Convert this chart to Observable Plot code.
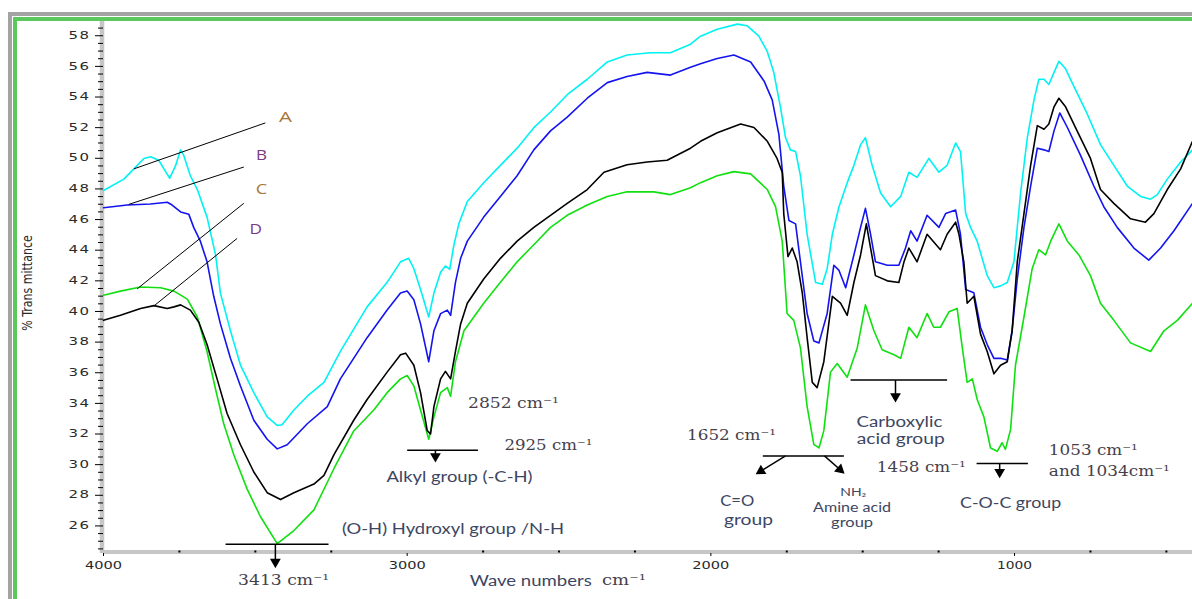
<!DOCTYPE html>
<html><head><meta charset="utf-8">
<script src="https://cdn.jsdelivr.net/npm/d3@7"></script>
<script src="https://cdn.jsdelivr.net/npm/@observablehq/plot@0.6"></script>
<style>
html,body{margin:0;padding:0;background:#fff;width:1192px;height:599px;overflow:hidden;}
#frame{position:absolute;left:8px;top:12px;right:0;bottom:0;border-top:4.5px solid #a3a3a3;border-left:4.5px solid #a3a3a3;}
#frame2{position:absolute;left:12.5px;top:16.5px;right:0;bottom:0;border-top:4px solid #5bc85b;border-left:4px solid #5bc85b;}
#chart{position:absolute;left:0;top:0;}
</style></head><body>
<div id="frame"></div><div id="frame2"></div><div id="chart"></div>
<script>
// ---- axes ----
const xDomain = [4000, 414];
const yDomain = [24.2, 58.93];
const xMajor = [4000, 3000, 2000, 1000];
const xMinor = [3750, 3500, 3250, 2750, 2500, 2250, 1750, 1500, 1250, 750, 500];
const yMajor = [26, 28, 30, 32, 34, 36, 38, 40, 42, 44, 46, 48, 50, 52, 54, 56, 58];
const yMinor = d3.range(24.5, 58.6, 0.5).filter(v => v % 2 !== 0);

// ---- series A (cyan) ----
const wnA = [4000,3933,3900,3867,3845,3818,3801,3782,3763,3746,3736,3714,3691,3659,3631,3615,3582,3549,3505,3461,3428,3412,3373,3329,3274,3220,3132,3066,3022,2995,2978,2956,2929,2912,2890,2874,2860,2846,2830,2802,2748,2693,2638,2583,2528,2473,2407,2341,2276,2199,2133,2067,2034,1979,1913,1880,1842,1814,1793,1771,1754,1738,1721,1705,1683,1655,1633,1617,1600,1578,1551,1529,1507,1491,1469,1441,1408,1375,1348,1321,1282,1249,1222,1194,1178,1161,1145,1123,1090,1068,1046,1024,1002,980,958,936,920,903,887,870,854,832,805,761,717,673,629,585,552,530,497,453,414];
const tA = [47.9,48.64,49.31,49.99,50.1,49.87,49.31,48.7,49.5,50.55,50.2,48.86,47.96,46.16,43.69,41.2,38.74,36.5,34.7,33.12,32.56,32.6,33.57,34.47,35.37,37.4,40.3,41.9,43.24,43.47,42.79,41.44,39.64,41.2,42.56,42.97,42.75,44.36,45.72,47.18,48.4,49.54,50.66,52.0,53.02,54.15,55.16,56.29,56.74,56.89,56.89,57.45,57.97,58.42,58.76,58.65,57.97,56.96,55.61,53.36,51.34,50.55,50.44,48.86,45.04,41.89,41.78,42.79,45.04,46.84,48.41,49.54,50.89,51.34,49.54,47.74,46.84,47.51,49.09,48.75,49.99,49.09,49.54,51.0,50.44,46.39,45.49,44.59,42.34,41.55,41.67,41.89,43.24,47.74,51.34,53.81,55.16,55.16,54.82,55.61,56.33,55.84,54.71,52.91,50.89,49.54,48.19,47.51,47.33,47.63,48.64,49.76,50.55];

// ---- series B (blue) ----
const wnB = [4000,3922,3845,3790,3774,3746,3719,3703,3681,3659,3637,3615,3582,3549,3505,3461,3428,3395,3329,3263,3220,3132,3066,3022,3000,2978,2956,2929,2912,2890,2868,2857,2841,2824,2802,2748,2693,2638,2583,2528,2473,2407,2341,2276,2210,2133,2067,2034,1979,1924,1869,1825,1798,1776,1760,1743,1721,1705,1683,1661,1644,1617,1595,1578,1556,1529,1507,1491,1474,1458,1419,1381,1359,1342,1321,1288,1249,1227,1194,1178,1161,1134,1112,1090,1068,1046,1024,1008,991,969,947,925,903,887,870,851,826,783,739,706,662,607,558,519,475,414];
const tB = [46.77,46.95,47.02,47.13,46.95,46.5,46.34,45.49,44.59,43.24,40.99,39.19,36.94,35.14,32.9,31.66,31.03,31.3,32.67,33.79,35.6,38.29,40.09,41.2,41.33,40.76,39.19,36.72,38.74,39.86,40.09,39.75,41.9,43.47,44.59,46.16,47.51,48.86,50.55,51.79,52.69,53.92,54.94,55.34,55.61,55.43,55.95,56.17,56.51,56.74,56.29,55.05,53.81,51.56,48.19,45.94,45.72,43.24,39.87,38.07,37.95,39.87,43.02,42.68,41.55,43.69,45.49,46.73,45.04,43.24,43.02,43.02,44.14,45.27,44.59,46.28,45.49,46.39,46.62,45.04,41.44,41.22,38.97,37.84,36.94,36.94,36.83,38.74,42.12,45.49,48.19,50.66,50.55,50.44,51.79,52.96,52.01,50.21,48.19,46.84,45.49,44.14,43.35,44.14,45.27,47.06];

// ---- series C (green) ----
const wnC = [4000,3944,3878,3812,3768,3724,3691,3659,3631,3604,3571,3527,3483,3428,3373,3307,3241,3176,3110,3066,3022,3000,2978,2956,2929,2912,2890,2868,2857,2841,2813,2748,2693,2638,2583,2528,2473,2407,2341,2276,2188,2133,2067,2034,1979,1924,1869,1814,1787,1765,1749,1727,1705,1683,1661,1644,1628,1606,1584,1551,1518,1491,1463,1436,1397,1375,1348,1321,1288,1266,1244,1216,1189,1172,1156,1139,1123,1101,1079,1057,1041,1030,1013,997,969,942,920,898,881,854,826,788,750,717,673,618,552,508,464,414];
const tC = [41.06,41.33,41.6,41.55,41.33,40.81,39.64,37.39,34.92,32.67,30.65,28.4,26.6,24.84,25.7,27.05,29.75,32.2,33.57,34.7,35.6,35.82,35.14,33.57,31.66,33.12,34.7,35.03,34.47,36.72,38.74,40.54,41.9,43.24,44.36,45.49,46.28,46.95,47.51,47.81,47.81,47.63,48.08,48.41,48.86,49.13,48.98,47.96,46.84,44.59,39.87,39.42,37.62,33.79,31.32,31.09,32.22,36.04,36.6,35.71,37.62,40.43,38.74,37.5,37.17,36.94,38.97,38.29,39.87,38.97,38.97,39.98,40.2,37.62,35.37,35.6,34.25,33.12,31.09,30.87,31.43,31.0,32.3,36.49,39.64,42.79,44.03,43.69,44.59,45.72,44.59,43.69,42.34,40.54,39.42,37.95,37.39,38.74,39.42,40.54];

// ---- series D (black) ----
const wnD = [4000,3944,3878,3834,3790,3768,3746,3714,3686,3659,3626,3593,3549,3505,3461,3417,3373,3307,3274,3241,3176,3132,3066,3022,3005,2978,2956,2934,2923,2912,2890,2874,2857,2841,2824,2802,2748,2693,2638,2583,2528,2473,2407,2352,2276,2210,2144,2067,2034,1979,1902,1858,1814,1782,1765,1760,1746,1732,1716,1699,1683,1666,1650,1628,1600,1573,1551,1529,1507,1488,1474,1458,1419,1381,1364,1348,1321,1288,1244,1222,1194,1183,1167,1156,1134,1112,1090,1068,1046,1024,1008,991,969,947,925,903,887,870,854,832,794,750,717,673,618,569,541,497,453,414];
const tD = [39.42,39.75,40.2,40.38,40.2,40.3,40.43,40.09,39.3,37.84,35.6,33.34,31.3,29.52,28.17,27.72,28.17,28.73,29.3,30.65,32.9,34.25,36.04,37.17,37.28,36.49,34.7,32.22,32.0,33.79,35.6,36.09,35.6,37.39,39.19,40.54,42.12,43.47,44.59,45.49,46.28,47.06,47.96,49.09,49.58,49.76,49.87,50.66,51.11,51.67,52.24,52.01,51.11,49.99,49.09,46.39,43.58,44.14,43.24,41.22,38.29,35.37,35.03,36.72,40.99,40.54,39.75,41.89,43.69,45.72,44.14,42.34,42.0,41.89,43.24,44.14,43.24,45.04,44.03,45.04,45.83,45.04,43.24,40.54,40.99,38.52,37.39,35.93,36.49,36.72,38.74,43.24,46.39,49.54,52.13,51.9,52.24,53.36,53.92,53.36,51.79,49.99,47.96,47.06,46.05,45.83,46.39,47.96,49.31,51.11];

// ---- annotations (data units: wavenumber, %T) ----
const leaderLines = [
  {x1: 3900, y1: 49.31, x2: 3467, y2: 52.31},
  {x1: 3917, y1: 46.99, x2: 3538, y2: 49.43},
  {x1: 3889, y1: 41.48, x2: 3538, y2: 47.06},
  {x1: 3834, y1: 40.36, x2: 3560, y2: 44.77}
];
const letterLabels = [
  {x: 3401, y: 52.68, text: "A"},
  {x: 3480, y: 50.2, text: "B"},
  {x: 3480, y: 47.96, text: "C"},
  {x: 3499, y: 45.38, text: "D"}
];
const brackets = [
  {x1: 3598, y1: 24.8, x2: 3259, y2: 24.8},
  {x1: 3000, y1: 30.94, x2: 2767, y2: 30.94},
  {x1: 1829, y1: 30.57, x2: 1562, y2: 30.57},
  {x1: 1540, y1: 35.52, x2: 1222, y2: 35.52},
  {x1: 1125, y1: 30.07, x2: 956, y2: 30.07}
];
const shafts = [
  {x1: 3434, y1: 24.8, x2: 3434, y2: 23.65},
  {x1: 2907, y1: 30.94, x2: 2907, y2: 30.54},
  {x1: 1754, y1: 30.57, x2: 1835, y2: 29.59},
  {x1: 1626, y1: 30.57, x2: 1575, y2: 29.68},
  {x1: 1392, y1: 35.52, x2: 1392, y2: 34.46},
  {x1: 1049, y1: 30.07, x2: 1049, y2: 29.52}
];
const heads = [
  {x: 3434, y: 23.65, angle: 180},
  {x: 2907, y: 30.54, angle: 180},
  {x: 1835, y: 29.59, angle: 238.6},
  {x: 1575, y: 29.68, angle: 131.5},
  {x: 1392, y: 34.46, angle: 180},
  {x: 1049, y: 29.52, angle: 180}
];
const cmLabels = [
  {x: 3407, y: 22.41, text: "3413 cm⁻¹"},
  {x: 2650, y: 33.97, text: "2852 cm⁻¹"},
  {x: 2535, y: 31.23, text: "2925 cm⁻¹"},
  {x: 1932, y: 31.88, text: "1652 cm⁻¹"},
  {x: 1307, y: 29.79, text: "1458 cm⁻¹"}
];
const cmLabelsLeft = [
  {x: 887, y: 30.94, text: "1053 cm⁻¹"},
  {x: 887, y: 29.55, text: "and 1034cm⁻¹"}
];
const groupLabels = [
  {x: 2849, y: 25.8, text: "(O-H) Hydroxyl group /N-H"},
  {x: 2828, y: 29.14, text: "Alkyl group (-C-H)"},
  {x: 1913, y: 27.63, text: "C=O"},
  {x: 1876, y: 26.39, text: "group"},
  {x: 1379, y: 32.79, text: "Carboxylic"},
  {x: 1375, y: 31.62, text: "acid group"},
  {x: 1013, y: 27.46, text: "C-O-C group"},
  {x: 2593, y: 22.41, text: "Wave numbers"}
];
const smallLabels = [
  {x: 1535, y: 27.18, text: "Amine acid"},
  {x: 1535, y: 26.2, text: "group"}
];
const tinyLabels = [{x: 1531, y: 28.16, text: "NH₂"}];
const axisUnit = [{x: 2286, y: 22.41, text: "cm⁻¹"}];
const yTitle = "% Trans mittance";

const mk = (w, t) => w.map((x, i) => ({x, y: t[i]}));
const dataA = mk(wnA, tA), dataB = mk(wnB, tB), dataC = mk(wnC, tC), dataD = mk(wnD, tD);

// styling maps (rendered text widths, px, matching the stretched look of the original)
const letterColor = {A: "#a8773a", B: "#7a3a82", C: "#a8773a", D: "#7a3a82"};
const bigWidths = {"(O-H) Hydroxyl group /N-H": 222, "Alkyl group (-C-H)": 146, "C=O": 34, "group": 49,
  "Carboxylic": 86, "acid group": 88, "C-O-C group": 101, "Wave numbers": 122,
  "3413 cm⁻¹": 91, "2852 cm⁻¹": 91, "2925 cm⁻¹": 88, "1652 cm⁻¹": 89, "1458 cm⁻¹": 89,
  "1053 cm⁻¹": 89, "and 1034cm⁻¹": 121, "cm⁻¹": 44, A: 13, B: 11, C: 11.5, D: 12.5};
const smallWidths = {"Amine acid": 78, "group": 42, "NH₂": 26};

const chart = Plot.plot({
  width: 1192, height: 599,
  marginLeft: 103, marginRight: 0, marginTop: 21, marginBottom: 46,
  x: {domain: xDomain, axis: null},
  y: {domain: yDomain, axis: null},
  style: {background: "transparent", overflow: "visible"},
  marks: [
    Plot.ruleX([xDomain[0]], {stroke: "#c6c6c6", strokeWidth: 4.5, dx: -1.5}),
    Plot.ruleY([yDomain[0]], {stroke: "#c6c6c6", strokeWidth: 4, dy: -1.5}),
    Plot.axisY(yMinor, {anchor: "left", tickSize: 5, tickFormat: () => "", label: null, stroke: "#000"}),
    Plot.axisY(yMajor, {anchor: "left", tickSize: 8, tickPadding: 5, label: null, stroke: "#000", fill: "#2a2a2a",
      fontSize: 10, fontFamily: "DejaVu Sans", tickFormat: d => String(d)}),
    Plot.axisX(xMinor, {anchor: "bottom", tickSize: 2, dy: -2.5, strokeWidth: 2, tickFormat: () => "", label: null, stroke: "#000"}),
    Plot.axisX(xMajor, {anchor: "bottom", tickSize: 3, tickPadding: 5, label: null, stroke: "#000", fill: "#2a2a2a",
      fontSize: 10, fontFamily: "DejaVu Sans", tickFormat: d => String(d)}),
    Plot.line(dataA, {x: "x", y: "y", stroke: "#00f2f2", strokeWidth: 1.6}),
    Plot.line(dataB, {x: "x", y: "y", stroke: "#1414f0", strokeWidth: 1.6}),
    Plot.line(dataC, {x: "x", y: "y", stroke: "#10e010", strokeWidth: 1.6}),
    Plot.line(dataD, {x: "x", y: "y", stroke: "#000", strokeWidth: 1.6}),
    Plot.link(leaderLines, {x1: "x1", y1: "y1", x2: "x2", y2: "y2", stroke: "#000", strokeWidth: 1}),
    Plot.link(brackets, {x1: "x1", y1: "y1", x2: "x2", y2: "y2", stroke: "#000", strokeWidth: 1.5}),
    Plot.link(shafts, {x1: "x1", y1: "y1", x2: "x2", y2: "y2", stroke: "#000", strokeWidth: 1.5}),
    Plot.dot(heads, {x: "x", y: "y", symbol: "triangle", r: 4, fill: "#000", stroke: null, rotate: "angle"}),
    Plot.text(letterLabels, {x: "x", y: "y", text: "text", fontSize: 15, fontFamily: "Open Sans", fill: d => letterColor[d.text]}),
    Plot.text(cmLabels, {x: "x", y: "y", text: "text", fontSize: 14, fontFamily: "DejaVu Serif", fill: "#463f4a"}),
    Plot.text(cmLabelsLeft, {x: "x", y: "y", text: "text", textAnchor: "start", fontSize: 14, fontFamily: "DejaVu Serif", fill: "#463f4a"}),
    Plot.text(axisUnit, {x: "x", y: "y", text: "text", fontSize: 14, fontFamily: "DejaVu Serif", fill: "#463f4a"}),
    Plot.text(groupLabels, {x: "x", y: "y", text: "text", fontSize: 14.5, fontFamily: "Lato", fill: "#3c4662"}),
    Plot.text(smallLabels, {x: "x", y: "y", text: "text", fontSize: 12.5, fontFamily: "Lato", fill: "#3c4662"}),
    Plot.text(tinyLabels, {x: "x", y: "y", text: "text", fontSize: 10.5, fontFamily: "Lato", fill: "#3c4662"})
  ]
});
document.getElementById("chart").appendChild(chart);

// stretch texts to the widths seen in the original
chart.querySelectorAll("text").forEach(t => {
  const s = t.textContent;
  if (!s) return;
  const g = t.parentNode;
  const label = g.getAttribute("aria-label") || "";
  const fs = g.getAttribute("font-size");
  let w, spacing = null;
  if (label.startsWith("y-axis")) { w = 22; spacing = "1px"; }
  else if (label.startsWith("x-axis")) { w = s === "1000" ? 35 : 37; }
  else if (fs === "12.5" || fs === "10.5") w = smallWidths[s];
  else w = bigWidths[s];
  if (!w) return;
  if (spacing) t.style.letterSpacing = spacing;
  t.setAttribute("textLength", w);
  t.setAttribute("lengthAdjust", "spacingAndGlyphs");
});

const ns = "http://www.w3.org/2000/svg";
const yt = document.createElementNS(ns, "text");
yt.setAttribute("transform", "translate(32,283) rotate(-90) scale(1,1.3)");
yt.setAttribute("text-anchor", "middle");
yt.setAttribute("font-family", "DejaVu Sans");
yt.setAttribute("font-size", "11");
yt.setAttribute("fill", "#2a2a2a");
yt.textContent = yTitle;
chart.appendChild(yt);
</script></body></html>
